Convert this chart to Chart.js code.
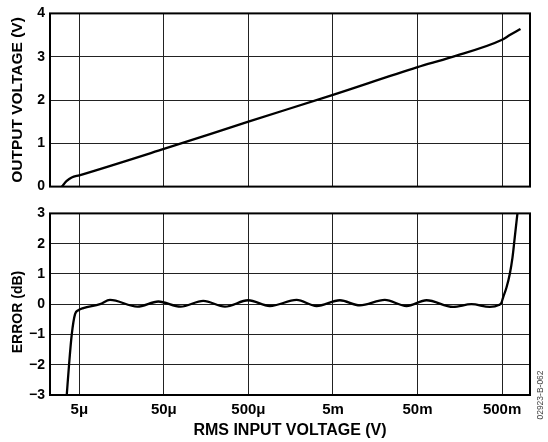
<!DOCTYPE html>
<html><head><meta charset="utf-8">
<script src="https://cdn.jsdelivr.net/npm/chart.js@4.4.1/dist/chart.umd.min.js"></script>
<style>
html,body{margin:0;padding:0;background:#fff;}
#wrap{position:relative;width:548px;height:442px;background:#fff;}
#c1{position:absolute;left:0;top:0;}
#c2{position:absolute;left:0;top:200px;}
</style></head><body>
<div id="wrap">
<canvas id="c1" width="548" height="200"></canvas>
<canvas id="c2" width="548" height="242"></canvas>
</div>
<script>
// x tick positions (V) and labels
const tickValues = [5e-6, 5e-5, 5e-4, 5e-3, 5e-2, 5e-1];
const tickLabels = ['5μ', '50μ', '500μ', '5m', '50m', '500m'];
const outTicks = [0, 1, 2, 3, 4];
const errTicks = [-3, -2, -1, 0, 1, 2, 3];

// Output voltage vs RMS input
const outX = [3.10e-6, 3.55e-6, 4.06e-6, 5e-6, 5e-5, 5e-4, 5e-3, 5e-2, 0.1205, 0.5, 0.617, 0.826];
const outV = [0, 0.13, 0.21, 0.26, 0.87, 1.50, 2.12, 2.76, 2.98, 3.39, 3.50, 3.64];

// Error (dB) vs RMS input
const errX = [3.55e-6, 3.78e-6, 4.07e-6, 4.45e-6, 4.87e-6, 5.57e-6, 8.79e-6, 1.153e-5, 2.43e-5, 4.30e-5, 7.90e-5,
  1.462e-4, 2.64e-4, 4.97e-4, 8.97e-4, 1.858e-3, 3.20e-3, 6.03e-3, 1.040e-2, 2.053e-2, 3.71e-2, 6.39e-2,
  0.1318, 0.2173, 0.358, 0.457, 0.492, 0.514, 0.564, 0.617, 0.664, 0.706, 0.760];
const errDb = [-3, -2, -1, -0.33, -0.2, -0.13, 0, 0.14, -0.08, 0.09, -0.08,
  0.11, -0.08, 0.13, -0.06, 0.14, -0.06, 0.13, -0.04, 0.14, -0.06, 0.13,
  -0.09, 0, -0.09, -0.03, 0.05, 0.22, 0.55, 1.0, 1.54, 2.2, 3.0];

const FONT = "'Liberation Sans', Arial, sans-serif";
const X_MIN = 2.25e-6, X_MAX = 1.07;

const framePlugin = {
  id: 'frame',
  beforeDatasetsDraw(chart) {
    const a = chart.chartArea, ctx = chart.ctx;
    ctx.save();
    ctx.strokeStyle = '#000';
    ctx.lineWidth = 2;
    ctx.strokeRect(a.left, a.top, a.right - a.left, a.bottom - a.top);
    ctx.restore();
  }
};

function yTitlePlugin(text, size, cy) {
  return {
    id: 'ytitle',
    afterDraw(chart) {
      const ctx = chart.ctx;
      ctx.save();
      ctx.translate(18, cy);
      ctx.rotate(-Math.PI / 2);
      ctx.font = "bold " + size + "px " + FONT;
      ctx.fillStyle = '#000';
      ctx.textAlign = 'center';
      ctx.textBaseline = 'middle';
      ctx.fillText(text, 0, 0);
      ctx.restore();
    }
  };
}

const markPlugin = {
  id: 'mark',
  afterDraw(chart) {
    const ctx = chart.ctx;
    ctx.save();
    ctx.translate(541, 195);
    ctx.rotate(-Math.PI / 2);
    ctx.font = "8.5px " + FONT;
    ctx.fillStyle = '#444';
    ctx.textAlign = 'center';
    ctx.textBaseline = 'middle';
    ctx.fillText('02923-B-062', 0, 0);
    ctx.restore();
  }
};

function xScale(showLabels) {
  return {
    type: 'logarithmic',
    min: X_MIN, max: X_MAX,
    afterBuildTicks(s) { s.ticks = tickValues.map(v => ({ value: v })); },
    afterFit(s) { s.height = showLabels ? 47 : 0; },
    grid: { color: '#222', lineWidth: 1, drawTicks: false },
    border: { display: false },
    ticks: {
      display: showLabels, autoSkip: false, maxRotation: 0, minRotation: 0, padding: 6,
      color: '#000', font: { family: FONT, size: 15, weight: 'bold' },
      callback: (v, i) => tickLabels[i]
    },
    title: {
      display: showLabels, text: 'RMS INPUT VOLTAGE (V)', color: '#000',
      font: { family: FONT, size: 16, weight: 'bold' }, padding: { top: 0, bottom: 2 }
    }
  };
}

function yScale(ticksArr) {
  return {
    type: 'linear',
    min: ticksArr[0], max: ticksArr[ticksArr.length - 1],
    afterBuildTicks(s) { s.ticks = ticksArr.map(v => ({ value: v })); },
    afterFit(s) { s.width = 50; },
    grid: { color: '#222', lineWidth: 1, drawTicks: false },
    border: { display: false },
    ticks: {
      padding: 5, color: '#000', font: { family: FONT, size: 14, weight: 'bold' },
      callback: v => (v < 0 ? '\u2212' + Math.abs(v) : String(v))
    },
    title: { display: false }
  };
}

const common = {
  responsive: false, animation: false, devicePixelRatio: 1,
  plugins: { legend: { display: false }, tooltip: { enabled: false } },
  elements: { point: { radius: 0 } }
};

new Chart(document.getElementById('c1'), {
  type: 'line',
  data: { datasets: [{ data: outX.map((x, i) => ({ x, y: outV[i] })), borderColor: '#000', borderWidth: 2.3,
    cubicInterpolationMode: 'monotone', fill: false }] },
  options: Object.assign({}, common, {
    layout: { padding: { left: 0, right: 18, top: 11, bottom: 9 } },
    scales: { x: xScale(false), y: yScale(outTicks) }
  }),
  plugins: [framePlugin, yTitlePlugin('OUTPUT VOLTAGE (V)', 15.5, 100)]
});

new Chart(document.getElementById('c2'), {
  type: 'line',
  data: { datasets: [{ data: errX.map((x, i) => ({ x, y: errDb[i] })), borderColor: '#000', borderWidth: 2.3,
    cubicInterpolationMode: 'monotone', fill: false }] },
  options: Object.assign({}, common, {
    layout: { padding: { left: 0, right: 18, top: 13, bottom: 0 } },
    scales: { x: xScale(true), y: yScale(errTicks) }
  }),
  plugins: [framePlugin, markPlugin, yTitlePlugin('ERROR (dB)', 14, 112)]
});
</script>
</body></html>
